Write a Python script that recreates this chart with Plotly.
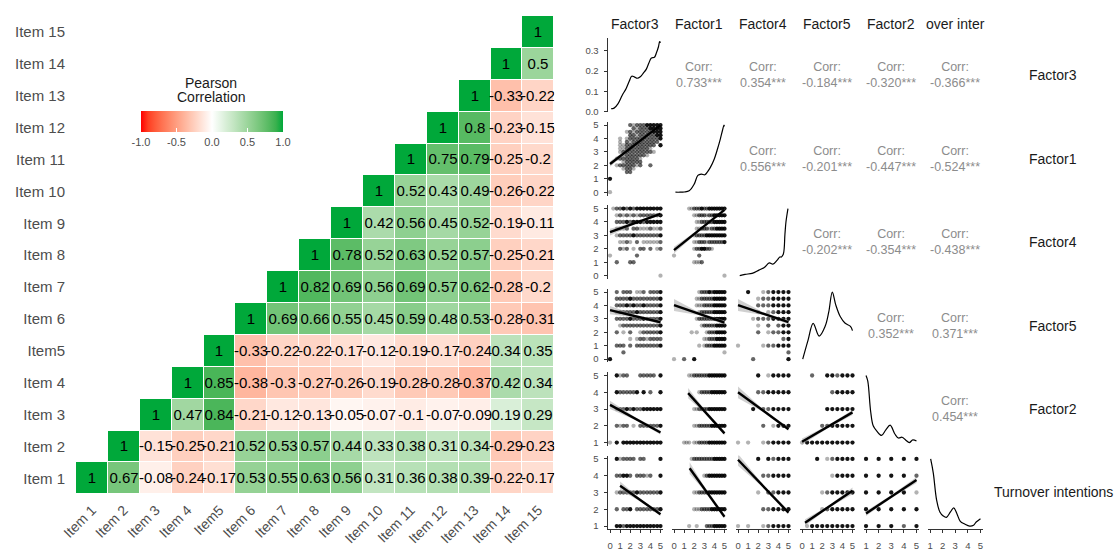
import plotly.graph_objects as go

W, H = 1116, 550
FONT = "Liberation Sans"

# ---------------- correlation heatmap data ----------------
ITEMS = ["Item 1", "Item 2", "Item 3", "Item 4", "Item5", "Item 6", "Item 7", "Item 8",
         "Item 9", "Item 10", "Item 11", "Item 12", "Item 13", "Item 14", "Item 15"]

# each list: correlations of an item with itself and every later item
CORR_ITEM1 = [1, 0.67, -0.08, -0.24, -0.17, 0.53, 0.55, 0.63, 0.56, 0.31, 0.36, 0.38, 0.39, -0.22, -0.17]
CORR_ITEM2 = [1, -0.15, -0.25, -0.21, 0.52, 0.53, 0.57, 0.44, 0.33, 0.38, 0.31, 0.34, -0.29, -0.23]
CORR_ITEM3 = [1, 0.47, 0.84, -0.21, -0.12, -0.13, -0.05, -0.07, -0.1, -0.07, -0.09, 0.19, 0.29]
CORR_ITEM4 = [1, 0.85, -0.38, -0.3, -0.27, -0.26, -0.19, -0.28, -0.28, -0.37, 0.42, 0.34]
CORR_ITEM5 = [1, -0.33, -0.22, -0.22, -0.17, -0.12, -0.19, -0.17, -0.24, 0.34, 0.35]
CORR_ITEM6 = [1, 0.69, 0.66, 0.55, 0.45, 0.59, 0.48, 0.53, -0.28, -0.31]
CORR_ITEM7 = [1, 0.82, 0.69, 0.56, 0.69, 0.57, 0.62, -0.28, -0.2]
CORR_ITEM8 = [1, 0.78, 0.52, 0.63, 0.52, 0.57, -0.25, -0.21]
CORR_ITEM9 = [1, 0.42, 0.56, 0.45, 0.52, -0.19, -0.11]
CORR_ITEM10 = [1, 0.52, 0.43, 0.49, -0.26, -0.22]
CORR_ITEM11 = [1, 0.75, 0.79, -0.25, -0.2]
CORR_ITEM12 = [1, 0.8, -0.23, -0.15]
CORR_ITEM13 = [1, -0.33, -0.22]
CORR_ITEM14 = [1, 0.5]
CORR_ITEM15 = [1]
CORR_ROWS = [CORR_ITEM1, CORR_ITEM2, CORR_ITEM3, CORR_ITEM4, CORR_ITEM5, CORR_ITEM6, CORR_ITEM7,
             CORR_ITEM8, CORR_ITEM9, CORR_ITEM10, CORR_ITEM11, CORR_ITEM12, CORR_ITEM13,
             CORR_ITEM14, CORR_ITEM15]

COLORBAR_TICKS = [-1.0, -0.5, 0.0, 0.5, 1.0]
COLORBAR_TICKTEXT = ["-1.0", "-0.5", "0.0", "0.5", "1.0"]

# ---------------- pairs-matrix data ----------------
FACTORS = ["Factor3", "Factor1", "Factor4", "Factor5", "Factor2", "Turnover intentions"]
HEADER_LABELS = ["Factor3", "Factor1", "Factor4", "Factor5", "Factor2", "over inter"]
VAR_LIMITS = {"Factor3": (0, 5), "Factor1": (0, 5), "Factor4": (0, 5), "Factor5": (0, 5),
              "Factor2": (1, 5), "Turnover intentions": (1, 5)}
VAR_TICKS = {"Factor3": [0, 1, 2, 3, 4, 5], "Factor1": [0, 1, 2, 3, 4, 5],
             "Factor4": [0, 1, 2, 3, 4, 5], "Factor5": [0, 1, 2, 3, 4, 5],
             "Factor2": [1, 2, 3, 4, 5], "Turnover intentions": [1, 2, 3, 4, 5]}

# observed score levels of each variable
LEVELS_THIRDS = [0, 0.33, 0.67, 1, 1.33, 1.67, 2, 2.33, 2.67, 3, 3.33, 3.67, 4, 4.33, 4.67, 5]
LEVELS_QUARTERS = [0, 0.25, 0.5, 0.75, 1, 1.25, 1.5, 1.75, 2, 2.25, 2.5, 2.75, 3, 3.25, 3.5,
                   3.75, 4, 4.25, 4.5, 4.75, 5]
LEVELS_HALVES = [0, 0.5, 1, 1.5, 2, 2.5, 3, 3.5, 4, 4.5, 5]
LEVELS_WHOLE = [1, 2, 3, 4, 5]
VAR_LEVELS = {"Factor3": LEVELS_THIRDS, "Factor1": LEVELS_QUARTERS, "Factor4": LEVELS_HALVES,
              "Factor5": LEVELS_HALVES, "Factor2": LEVELS_WHOLE}

# point clouds: y level -> overplotting depth at each x level (0 none, 1 light, 2 mid, 3 dense)
PTS_F1_F3 = {5.0: "0000002122233333", 4.75: "0000000212223333", 4.5: "0000012122222333",
             4.25: "0000002212222233", 4.0: "0001012222222223", 3.75: "0001021222222220",
             3.5: "0001122222222203", 3.25: "0001122222221000", 3.0: "0001222222222100",
             2.75: "0000122222210000", 2.5: "0012222221000000", 2.25: "0000122222000000",
             2.0: "0012222212002000", 1.75: "0000122100000000", 1.5: "0000022000000000",
             1.0: "3000000000000000", 0.0: "1000000000000000"}
PTS_F4_F3 = {5.0: "0122323233333333", 4.5: "0012121212222223", 4.0: "0022232333233333",
             3.5: "0011120221112112", 3.0: "0012222322222223", 2.5: "0001121020111112",
             2.0: "0002120102202012", 1.5: "1000000020000000", 1.0: "0020002200000000",
             0.0: "0000000000000001"}
PTS_F4_F1 = {5.0: "000000112223223333333", 4.5: "000000001122212233333",
             4.0: "000000000112222233333", 3.5: "000000000112221223333",
             3.0: "000000001222233333333", 2.5: "000000001122212222223",
             2.0: "000000001223322100000", 1.5: "100000000020000000000",
             1.0: "000000001112000000000", 0.0: "000000000000000000001"}
PTS_F5_F3 = {5.0: "0020222011202223", 4.5: "0022223222222223", 4.0: "0022232322322223",
             3.5: "0012222232222223", 3.0: "0022223222322223", 2.5: "0001222222222223",
             2.0: "0020102001222223", 1.5: "0000001012212222", 1.0: "0022202022222223",
             0.5: "0000200000000000", 0.0: "3000000000000000"}
PTS_F5_F1 = {5.0: "000000000012223233333", 4.5: "000000000112222233333",
             4.0: "000000000111222233333", 3.5: "000000000012222233333",
             3.0: "000000000122222233333", 2.5: "000000000001222223333",
             2.0: "000000010100012223333", 1.5: "000000000000112223333",
             1.0: "000000000010122233333", 0.5: "000000000000000000001",
             0.0: "100020003000000000000"}
PTS_F5_F4 = {5.0: "00300123333", 4.5: "00001223333", 4.0: "00002223333", 3.5: "00001012333",
             3.0: "00012223333", 2.5: "00001020233", 2.0: "00002012233", 1.5: "00000000023",
             1.0: "10000122333", 0.5: "00000000002", 0.0: "00020000003"}
PTS_F2_F3 = {5: "0031220002222203", 4: "0032222230302003", 3: "0012232322333333",
             2: "0021220102222223", 1: "1030333333333333"}
PTS_F2_F1 = {5: "000000112222223333333", 4: "000000000012222333333",
             3: "000000001122223333333", 2: "000000001122222333333",
             1: "000011101122223333333"}
PTS_F2_F4 = {5: "00003013333", 4: "00002233333", 3: "00030223333", 2: "00000201333",
             1: "10100123333"}
PTS_F2_F5 = {5: "00200332333", 4: "00000023333", 3: "00000333333", 2: "00002233333",
             1: "13333333333"}
PTS_TI_F3 = {5: "0031222202200003", 4: "0022332022212003", 3: "0012222232222223",
             2: "0020223022222223", 1: "0033233333333333"}
PTS_TI_F1 = {5: "000000012222222233333", 4: "000000000000123333333",
             3: "000000001122223333333", 2: "000000001112222333333",
             1: "000000100100022233333"}
PTS_TI_F4 = {5: "00003032333", 4: "00000223333", 3: "00001022333", 2: "00000223333",
             1: "10100123333"}
PTS_TI_F5 = {5: "00030123333", 4: "00000013333", 3: "00001233333", 2: "00001233333",
             1: "01333333333"}
PTS_TI_F2 = {5: "33333", 4: "33332", 3: "33331", 2: "33333", 1: "33323"}

# linear fits: [x start, y start, x end, y end]; band half-widths at start, middle, end
FIT_F1_F3, BAND_F1_F3 = [0.0, 2.1, 5.0, 5.0], [0.2, 0.05, 0.08]
FIT_F4_F3, BAND_F4_F3 = [0.0, 3.25, 5.0, 4.6], [0.25, 0.08, 0.12]
FIT_F4_F1, BAND_F4_F1 = [0.0, 1.9, 5.0, 4.9], [0.25, 0.08, 0.1]
FIT_F5_F3, BAND_F5_F3 = [0.0, 3.65, 5.0, 2.75], [0.3, 0.1, 0.15]
FIT_F5_F1, BAND_F5_F1 = [0.0, 4.03, 5.0, 2.72], [0.45, 0.1, 0.15]
FIT_F5_F4, BAND_F5_F4 = [0.0, 4.03, 5.0, 2.75], [0.45, 0.1, 0.15]
FIT_F2_F3, BAND_F2_F3 = [0.0, 3.25, 5.0, 1.6], [0.25, 0.08, 0.12]
FIT_F2_F1, BAND_F2_F1 = [1.4, 3.95, 5.0, 1.55], [0.3, 0.08, 0.12]
FIT_F2_F4, BAND_F2_F4 = [0.0, 4.0, 5.0, 1.8], [0.35, 0.08, 0.1]
FIT_F2_F5, BAND_F2_F5 = [0.0, 1.05, 5.0, 2.8], [0.2, 0.08, 0.15]
FIT_TI_F3, BAND_TI_F3 = [1.0, 3.4, 5.0, 1.7], [0.25, 0.08, 0.1]
FIT_TI_F1, BAND_TI_F1 = [1.55, 4.45, 5.0, 1.55], [0.35, 0.08, 0.1]
FIT_TI_F4, BAND_TI_F4 = [0.0, 4.95, 5.0, 1.8], [0.35, 0.08, 0.1]
FIT_TI_F5, BAND_TI_F5 = [0.3, 1.2, 5.0, 3.1], [0.2, 0.06, 0.2]
FIT_TI_F2, BAND_TI_F2 = [1.0, 1.75, 5.0, 3.75], [0.15, 0.08, 0.18]

# kernel density curves on the diagonal
DENS_F3_X = [0.1, 0.4, 0.8, 1.2, 1.6, 1.9, 2.15, 2.4, 2.7, 3.0, 3.3, 3.6, 3.85, 4.1, 4.4, 4.6, 4.8, 4.92, 5.0]
DENS_F3_Y = [0.015, 0.018, 0.04, 0.08, 0.115, 0.15, 0.175, 0.172, 0.165, 0.172, 0.19, 0.21, 0.24,
             0.265, 0.268, 0.29, 0.32, 0.345, 0.34]
DENS_F1_X = [0.14, 0.6, 1.0, 1.5, 2.0, 2.36, 2.7, 3.06, 3.3, 3.6, 4.0, 4.3, 4.6, 4.8, 4.95, 5.0]
DENS_F1_Y = [0.0, 0.0, 0.003, 0.02, 0.12, 0.25, 0.27, 0.26, 0.3, 0.37, 0.5, 0.64, 0.8, 0.92, 1.0, 0.98]
DENS_F4_X = [0.17, 0.7, 1.4, 2.07, 2.6, 3.1, 3.45, 3.86, 4.14, 4.3, 4.5, 4.65, 4.75, 4.95]
DENS_F4_Y = [0.0, 0.02, 0.034, 0.083, 0.122, 0.19, 0.171, 0.229, 0.278, 0.278, 0.327, 0.62, 0.8, 1.0]
DENS_F5_X = [0.07, 0.6, 1.1, 1.7, 2.3, 2.65, 3.0, 3.35, 3.8, 4.25, 4.8, 5.0]
DENS_F5_Y = [0.025, 0.30, 0.545, 0.36, 0.505, 0.71, 1.0, 0.81, 0.64, 0.55, 0.5, 0.44]
DENS_F2_X = [1.0, 1.14, 1.37, 1.57, 1.86, 2.23, 2.57, 2.91, 3.3, 3.57, 3.86, 4.14, 4.43, 4.71, 5.0]
DENS_F2_Y = [1.0, 0.915, 0.46, 0.25, 0.17, 0.107, 0.19, 0.26, 0.124, 0.068, 0.08, 0.04, 0.0, 0.04, 0.023]
DENS_TI_X = [1.05, 1.26, 1.52, 1.78, 2.05, 2.3, 2.62, 2.88, 3.14, 3.4, 3.75, 4.14, 4.45, 4.66, 5.0]
DENS_TI_Y = [1.0, 0.79, 0.39, 0.21, 0.15, 0.13, 0.21, 0.27, 0.18, 0.07, 0.03, 0.0, 0.012, 0.06, 0.11]

# correlations shown in the upper triangle
CORR_F3 = [0.733, 0.354, -0.184, -0.320, -0.366]
CORR_F1 = [0.556, -0.201, -0.447, -0.524]
CORR_F4 = [-0.202, -0.354, -0.438]
CORR_F5 = [0.352, 0.371]
CORR_F2 = [0.454]

DENSITIES = [(DENS_F3_X, DENS_F3_Y), (DENS_F1_X, DENS_F1_Y), (DENS_F4_X, DENS_F4_Y),
             (DENS_F5_X, DENS_F5_Y), (DENS_F2_X, DENS_F2_Y), (DENS_TI_X, DENS_TI_Y)]
SCATTERS = {
    (1, 0): (PTS_F1_F3, FIT_F1_F3, BAND_F1_F3),
    (2, 0): (PTS_F4_F3, FIT_F4_F3, BAND_F4_F3), (2, 1): (PTS_F4_F1, FIT_F4_F1, BAND_F4_F1),
    (3, 0): (PTS_F5_F3, FIT_F5_F3, BAND_F5_F3), (3, 1): (PTS_F5_F1, FIT_F5_F1, BAND_F5_F1),
    (3, 2): (PTS_F5_F4, FIT_F5_F4, BAND_F5_F4),
    (4, 0): (PTS_F2_F3, FIT_F2_F3, BAND_F2_F3), (4, 1): (PTS_F2_F1, FIT_F2_F1, BAND_F2_F1),
    (4, 2): (PTS_F2_F4, FIT_F2_F4, BAND_F2_F4), (4, 3): (PTS_F2_F5, FIT_F2_F5, BAND_F2_F5),
    (5, 0): (PTS_TI_F3, FIT_TI_F3, BAND_TI_F3), (5, 1): (PTS_TI_F1, FIT_TI_F1, BAND_TI_F1),
    (5, 2): (PTS_TI_F4, FIT_TI_F4, BAND_TI_F4), (5, 3): (PTS_TI_F5, FIT_TI_F5, BAND_TI_F5),
    (5, 4): (PTS_TI_F2, FIT_TI_F2, BAND_TI_F2),
}
UPPER_CORR = [CORR_F3, CORR_F1, CORR_F4, CORR_F5, CORR_F2]


# ---------------- colour scale (Lab interpolation red - white - green) ----------------
def _srgb_to_lab(rgb):
    lin = []
    for c in rgb:
        c = c / 255.0
        lin.append(c / 12.92 if c <= 0.04045 else ((c + 0.055) / 1.055) ** 2.4)
    r, g, b = lin
    x = (0.4124 * r + 0.3576 * g + 0.1805 * b) / 0.95047
    y = (0.2126 * r + 0.7152 * g + 0.0722 * b)
    z = (0.0193 * r + 0.1192 * g + 0.9505 * b) / 1.08883

    def f(t):
        return t ** (1 / 3) if t > 0.008856 else 7.787 * t + 16 / 116
    fx, fy, fz = f(x), f(y), f(z)
    return (116 * fy - 16, 500 * (fx - fy), 200 * (fy - fz))


def _lab_to_srgb(lab):
    L, a, b = lab
    fy = (L + 16) / 116
    fx = fy + a / 500
    fz = fy - b / 200

    def finv(t):
        return t ** 3 if t ** 3 > 0.008856 else (t - 16 / 116) / 7.787
    x, y, z = finv(fx) * 0.95047, finv(fy), finv(fz) * 1.08883
    r = 3.2406 * x - 1.5372 * y - 0.4986 * z
    g = -0.9689 * x + 1.8758 * y + 0.0415 * z
    bb = 0.0557 * x - 0.2040 * y + 1.0570 * z
    out = []
    for c in (r, g, bb):
        c = 12.92 * c if c <= 0.0031308 else 1.055 * c ** (1 / 2.4) - 0.055
        out.append(int(round(min(max(c, 0), 1) * 255)))
    return "rgb(%d,%d,%d)" % tuple(out)


LOW, MID, HIGH = (255, 0, 0), (255, 255, 255), (0, 168, 58)


def diverging_scale(steps=20):
    lo, mi, hi = _srgb_to_lab(LOW), _srgb_to_lab(MID), _srgb_to_lab(HIGH)
    scale = []
    for k in range(steps + 1):
        t = k / steps
        if t <= 0.5:
            u = t / 0.5
            lab = tuple(lo[i] + (mi[i] - lo[i]) * u for i in range(3))
        else:
            u = (t - 0.5) / 0.5
            lab = tuple(mi[i] + (hi[i] - mi[i]) * u for i in range(3))
        scale.append([t, _lab_to_srgb(lab)])
    return scale


# ---------------- heatmap ----------------
n = len(ITEMS)
zmat = [[None] * n for _ in range(n)]
tmat = [[""] * n for _ in range(n)]
for i, row in enumerate(CORR_ROWS):
    for k, v in enumerate(row):
        zmat[i][i + k] = v
        tmat[i][i + k] = f"{v:g}"

fig = go.Figure()
fig.add_trace(go.Heatmap(
    x=ITEMS, y=ITEMS, z=zmat, text=tmat, texttemplate="%{text}",
    textfont=dict(family=FONT, size=15, color="black"),
    colorscale=diverging_scale(), zmin=-1, zmax=1, xgap=1, ygap=1, hoverinfo="skip",
    colorbar=dict(orientation="h", x=212 / W, xanchor="center", y=1 - 110.7 / H, yanchor="top",
                  len=142, lenmode="pixels", thickness=21, thicknessmode="pixels",
                  outlinewidth=0, xpad=0, ypad=0, tickvals=COLORBAR_TICKS,
                  ticktext=COLORBAR_TICKTEXT, ticks="inside", ticklen=4, tickcolor="white",
                  tickfont=dict(family=FONT, size=11, color="#4d4d4d")),
))

layout = dict(
    width=W, height=H, margin=dict(l=0, r=0, t=0, b=0, autoexpand=False),
    paper_bgcolor="white", plot_bgcolor="white", showlegend=False,
    font=dict(family=FONT),
    xaxis=dict(domain=[76 / W, 554.3 / W], range=[-0.5, 14.5], tickangle=-45,
               tickfont=dict(size=14, color="#4d4d4d"), showgrid=False, zeroline=False,
               ticks="", ticklabelstandoff=4, fixedrange=True, automargin=False),
    yaxis=dict(domain=[1 - 494.3 / H, 1 - 16 / H], range=[-0.5, 14.5],
               tickfont=dict(size=15, color="#4d4d4d"), showgrid=False, zeroline=False,
               ticks="", ticklabelstandoff=10, fixedrange=True, automargin=False),
)

annotations = [
    dict(text="Pearson", x=211 / W, y=1 - 82.7 / H, xref="paper", yref="paper",
         showarrow=False, font=dict(size=14, color="#1a1a1a"), xanchor="center", yanchor="middle"),
    dict(text="Correlation", x=211 / W, y=1 - 97.5 / H, xref="paper", yref="paper",
         showarrow=False, font=dict(size=14, color="#1a1a1a"), xanchor="center", yanchor="middle"),
]

# ---------------- pairs matrix ----------------
LEFT0, COL_STEP, PW = 607.5, 64.0, 55.5
TOP0, ROW_STEP, PH = 38.3, 83.46, 73.8
AXIS_COLOR = "#333333"
TICK_FONT = dict(family=FONT, size=9.5, color="#4d4d4d")


def padded(lo, hi):
    span = hi - lo
    return [lo - 0.05 * span, hi + 0.05 * span]


def panel_center(r, c):
    cx = (LEFT0 + c * COL_STEP + PW / 2) / W
    cy = 1 - (TOP0 + r * ROW_STEP + PH / 2) / H
    return cx, cy


nv = len(FACTORS)
for r in range(nv):
    for c in range(nv):
        idx = 2 + r * nv + c
        xa, ya = f"x{idx}", f"y{idx}"
        left = LEFT0 + c * COL_STEP
        top = TOP0 + r * ROW_STEP
        xvar, yvar = FACTORS[c], FACTORS[r]
        xr = padded(*VAR_LIMITS[xvar])
        if r == c:
            dx, dy = DENSITIES[r]
            yr = padded(min(dy), max(dy))
        else:
            yr = padded(*VAR_LIMITS[yvar])

        xax = dict(domain=[left / W, (left + PW) / W], range=xr, anchor=ya, showgrid=False,
                   zeroline=False, fixedrange=True, showticklabels=False, ticks="",
                   showline=False, automargin=False)
        yax = dict(domain=[1 - (top + PH) / H, 1 - top / H], range=yr, anchor=xa,
                   showgrid=False, zeroline=False, fixedrange=True, showticklabels=False,
                   ticks="", showline=False, automargin=False)
        if r == nv - 1:
            xax.update(showline=True, linecolor=AXIS_COLOR, linewidth=1, ticks="outside",
                       ticklen=3, tickcolor=AXIS_COLOR, tickvals=VAR_TICKS[xvar],
                       showticklabels=True, tickfont=TICK_FONT, ticklabelstandoff=4)
        if c == 0:
            if r == 0:
                tv = [0.0, 0.1, 0.2, 0.3]
                tt = ["0.0", "0.1", "0.2", "0.3"]
            else:
                tv = VAR_TICKS[yvar]
                tt = [str(v) for v in tv]
            yax.update(showline=True, linecolor=AXIS_COLOR, linewidth=1, ticks="outside",
                       ticklen=3, tickcolor=AXIS_COLOR, tickvals=tv, ticktext=tt,
                       showticklabels=True, tickfont=TICK_FONT, ticklabelstandoff=3)
        layout[f"xaxis{idx}"] = xax
        layout[f"yaxis{idx}"] = yax

        if r == c:
            fig.add_trace(go.Scatter(x=dx, y=dy, mode="lines", xaxis=xa, yaxis=ya,
                                     line=dict(color="black", width=1.2, shape="spline"),
                                     hoverinfo="skip"))
        elif r > c:
            pts, fit, band = SCATTERS[(r, c)]
            xs, ys, ops = [], [], []
            levels = VAR_LEVELS[xvar]
            for yv, row in pts.items():
                for k, ch in enumerate(row):
                    if ch != "0":
                        xs.append(levels[k])
                        ys.append(yv)
                        ops.append({"1": 0.3, "2": 0.6, "3": 0.92}[ch])
            fig.add_trace(go.Scatter(x=xs, y=ys, mode="markers", xaxis=xa, yaxis=ya,
                                     marker=dict(color="black", size=4.3, opacity=ops,
                                                 line=dict(width=0)),
                                     hoverinfo="skip"))
            x0, y0, x1, y1 = fit
            xm, ym = (x0 + x1) / 2, (y0 + y1) / 2
            h0, hm, h1 = band
            fig.add_trace(go.Scatter(
                x=[x0, xm, x1, x1, xm, x0, x0],
                y=[y0 + h0, ym + hm, y1 + h1, y1 - h1, ym - hm, y0 - h0, y0 + h0],
                mode="lines", fill="toself", fillcolor="rgba(150,150,150,0.45)",
                line=dict(width=0), xaxis=xa, yaxis=ya, hoverinfo="skip"))
            fig.add_trace(go.Scatter(x=[x0, x1], y=[y0, y1], mode="lines", xaxis=xa, yaxis=ya,
                                     line=dict(color="black", width=2.4), hoverinfo="skip"))
        else:
            val = UPPER_CORR[r][c - r - 1]
            cx, cy = panel_center(r, c)
            annotations.append(dict(
                text=f"Corr:<br>{val:.3f}***", x=cx, y=cy, xref="paper", yref="paper",
                showarrow=False, xanchor="center", yanchor="middle",
                font=dict(size=12.5, color="#8c8c8c")))

    # strip labels: column headers on top and row names on the right
    hx, _ = panel_center(0, r)
    _, ry = panel_center(r, 0)
    annotations.append(dict(text=HEADER_LABELS[r], x=hx, y=1 - 24 / H,
                            xref="paper", yref="paper", showarrow=False,
                            xanchor="center", yanchor="middle",
                            font=dict(size=14, color="#1a1a1a")))
    annotations.append(dict(text=FACTORS[r], x=1053 / W, y=ry, xref="paper",
                            yref="paper", showarrow=False,
                            xanchor="center", yanchor="middle",
                            font=dict(size=14, color="#1a1a1a")))

layout["annotations"] = annotations
fig.update_layout(**layout)
fig.write_html("out.html")
